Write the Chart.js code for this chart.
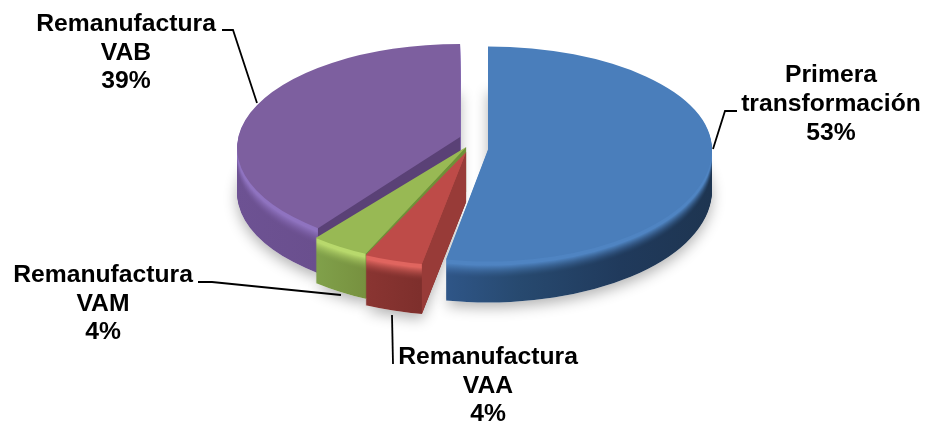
<!DOCTYPE html>
<html><head><meta charset="utf-8">
<style>html,body{margin:0;padding:0;background:#fff}canvas{display:block}</style>
<script src="https://cdn.jsdelivr.net/npm/chart.js@4"></script>
</head><body><canvas id="c" width="926" height="423"></canvas>
<script>
const categories = ['Primera transformación','Remanufactura VAA','Remanufactura VAM','Remanufactura VAB'];
const values = [53,4,4,39];
const labelLines = [['Primera','transformación'],['Remanufactura','VAA'],['Remanufactura','VAM'],['Remanufactura','VAB']];
const topColors = ['#4a7ebb','#be4b48','#98b954','#7d5f9f'];
const rimColors = ['#4f84c2','#e0655f','#b8d96c','#8f73c0'];
const cutColors = ['#2b5080','#983b38','#6f9139','#5a4176'];
const wallStops = [
  [[445,'#2f5688'],[520,'#27496f'],[620,'#203a5c'],[710,'#1e3551']],
  [[365,'#8a3532'],[420,'#7e2f2c']],
  [[318,'#80a04a'],[365,'#77913f']],
  [[236,'#6d5293'],[316,'#6a4f8e']]
];
// look of the tilted pie
const explode = [[14.4,1.5],[-7.5,11],[-7.5,6],[-13.5,-4]];
const centerDrop = [7,0,0,11];
const radX = [224,236,236,223];
const radBack = [103,96,96,104];
const radFront = [112,114,118,104];
const depths = [41,50,45,45];
const paintOrder = [3,0,2,1];
// label placement
const labelBoxes = [[831,75.5],[488,357],[103,275],[126,24]];
const LINE_H = 28.7;
const leaders = [
  [[737,111],[725,111],[713,149]],
  [[392,315],[393,364]],
  [[198,282],[212,282],[341,295]],
  [[222,30],[233,30],[257,103]]
];

function hex(c){return [1,3,5].map(i=>parseInt(c.substr(i,2),16));}
function mix(a,b,t){const A=hex(a),B=hex(b);return 'rgb('+A.map((v,i)=>Math.round(v+(B[i]-v)*t)).join(',')+')';}

function drawSlice(ctx,el,i,fill,dy,W,H){
  const R=el.outerRadius, ax=el.x+explode[i][0], ay=el.y+explode[i][1]+centerDrop[i];
  const proxy=Object.create(el);
  proxy.options=Object.assign({},el.options,{backgroundColor:fill,borderWidth:0,borderColor:'rgba(0,0,0,0)',offset:0});
  const seam=Math.round(ay+dy);
  [0,1].forEach(front=>{
    ctx.save();
    ctx.beginPath();
    if(front) ctx.rect(-40,seam,W+80,H); else ctx.rect(-40,-40,W+80,seam+40);
    ctx.clip();
    ctx.translate(ax,ay+dy);
    ctx.scale(radX[i]/R,(front?radFront[i]:radBack[i])/R);
    ctx.translate(-el.x,-el.y);
    proxy.draw(ctx);
    ctx.restore();
  });
}
function wallFill(ctx,el,i,blendTo,t){
  const R=el.outerRadius, ax=el.x+explode[i][0], k=R/radX[i];
  const st=wallStops[i];
  const toLocal=X=>el.x+(X-ax)*k;
  const g=ctx.createLinearGradient(toLocal(st[0][0]),0,toLocal(st[st.length-1][0]),0);
  const x0=st[0][0],x1=st[st.length-1][0];
  st.forEach(s=>g.addColorStop((s[0]-x0)/(x1-x0),mix(s[1],blendTo,t)));
  return g;
}
const tiltPlugin={
  id:'tilt',
  beforeDatasetsDraw(chart){
    const ctx=chart.ctx, W=chart.width, H=chart.height;
    const arcs=chart.getDatasetMeta(0).data;
    // soft ground shadow
    ctx.save();
    ctx.shadowColor='rgba(0,0,0,0.30)';ctx.shadowBlur=14;ctx.shadowOffsetY=5;
    paintOrder.forEach(i=>drawSlice(ctx,arcs[i],i,'#ffffff',depths[i],W,H));
    ctx.restore();
    paintOrder.forEach(i=>{
      const el=arcs[i];
      for(let d=depths[i];d>=1;d--){
        let t=0;
        if(d<=4) t=1; else if(d<=17) t=Math.pow(1-(d-4)/13,1.6);
        drawSlice(ctx,el,i,wallFill(ctx,el,i,rimColors[i],t),d,W,H);
      }
      drawSlice(ctx,el,i,topColors[i],0,W,H);
      // flat radial cut face, from the true apex of the exploded slice
      const ax=el.x+explode[i][0], ay=el.y+explode[i][1], a=el.startAngle;
      const cx=ax+radX[i]*Math.cos(a);
      const cy=ay+centerDrop[i]+(Math.sin(a)>0?radFront[i]:radBack[i])*Math.sin(a);
      ctx.save();
      ctx.fillStyle=cutColors[i];
      ctx.beginPath();ctx.moveTo(ax,ay);ctx.lineTo(cx,cy);ctx.lineTo(cx,cy+depths[i]);ctx.lineTo(ax,ay+depths[i]);ctx.closePath();ctx.fill();
      ctx.restore();
    });
    return false;
  },
  afterDraw(chart){
    const ctx=chart.ctx;
    ctx.save();
    ctx.strokeStyle='#000';ctx.lineWidth=1.8;ctx.lineJoin='miter';
    leaders.forEach(pts=>{
      ctx.beginPath();
      pts.forEach((p,k)=>k?ctx.lineTo(p[0],p[1]):ctx.moveTo(p[0],p[1]));
      ctx.stroke();
    });
    ctx.fillStyle='#000';
    ctx.font='bold 24.7px "Liberation Sans", Arial, sans-serif';
    ctx.textAlign='center';ctx.textBaseline='middle';
    labelLines.forEach((ls,i)=>{
      const lines=ls.concat([values[i]+'%']);
      lines.forEach((t,k)=>ctx.fillText(t,labelBoxes[i][0],labelBoxes[i][1]+k*LINE_H));
    });
    ctx.restore();
  }
};
new Chart(document.getElementById('c').getContext('2d'),{
  type:'pie',
  data:{labels:categories,datasets:[{data:values,backgroundColor:topColors,borderWidth:0}]},
  options:{
    responsive:false,animation:false,
    layout:{padding:{left:21.2,right:0,top:0,bottom:141}},
    plugins:{legend:{display:false},tooltip:{enabled:false}}
  },
  plugins:[tiltPlugin]
});
</script></body></html>
